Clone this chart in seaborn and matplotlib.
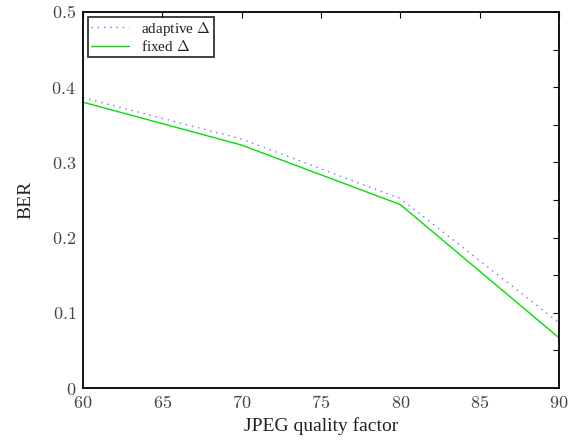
import pandas as pd
import seaborn as sns
import matplotlib.pyplot as plt

quality = [60, 70, 80, 90]
ber_adaptive = [0.386, 0.331, 0.252, 0.087]
ber_fixed = [0.380, 0.323, 0.244, 0.067]
labels = ['adaptive $\\Delta$', 'fixed $\\Delta$']
x_ticks = [60, 65, 70, 75, 80, 85, 90]
y_ticks = [0, 0.05, 0.1, 0.15, 0.2, 0.25, 0.3, 0.35, 0.4, 0.45, 0.5]
y_tick_labels = ['0', '', '0.1', '', '0.2', '', '0.3', '', '0.4', '', '0.5']

df = pd.DataFrame({
    'quality': quality * 2,
    'BER': ber_adaptive + ber_fixed,
    'method': [labels[0]] * len(quality) + [labels[1]] * len(quality),
})

sns.set_style('white')
plt.rcParams['font.family'] = ['Liberation Serif', 'DejaVu Serif']
plt.rcParams['mathtext.fontset'] = 'cm'

fig = plt.figure(figsize=(5.74, 4.42), dpi=100)
ax = fig.add_axes([0.1446, 0.122, 0.829, 0.851])

sns.lineplot(data=df, x='quality', y='BER', hue='method', style='method',
             palette=['#7070ff', '#00e000'], dashes=[(1, 3.5), ''],
             linewidth=1.0, ax=ax)

ax.set_xlim(60, 90)
ax.set_ylim(0, 0.5)
ax.set_xticks(x_ticks)
ax.set_xticklabels(['$%d$' % t for t in x_ticks])
ax.set_yticks(y_ticks)
ax.set_yticklabels(['$%s$' % t if t else '' for t in y_tick_labels])
ax.tick_params(direction='in', top=True, right=True, labelsize=13, length=4,
               color='black', labelcolor='#444444')
ax.tick_params(axis='x', pad=5)
ax.tick_params(axis='y', pad=5)
for s in ax.spines.values():
    s.set_color('black')
    s.set_linewidth(1.3)
ax.set_xlabel('JPEG quality factor', fontsize=14, color='#222222')
ax.set_ylabel('BER', fontsize=14, labelpad=12, color='#222222')

leg = ax.legend(loc='upper left', fontsize=11, frameon=True, fancybox=False,
                borderaxespad=0.3, handlelength=2.5, borderpad=0.2, labelspacing=0.1)
leg.get_frame().set_edgecolor('black')
leg.get_frame().set_linewidth(1.3)
leg.set_title(None)
for t in leg.get_texts():
    t.set_color('#222222')

fig.savefig('out.png', dpi=100)
